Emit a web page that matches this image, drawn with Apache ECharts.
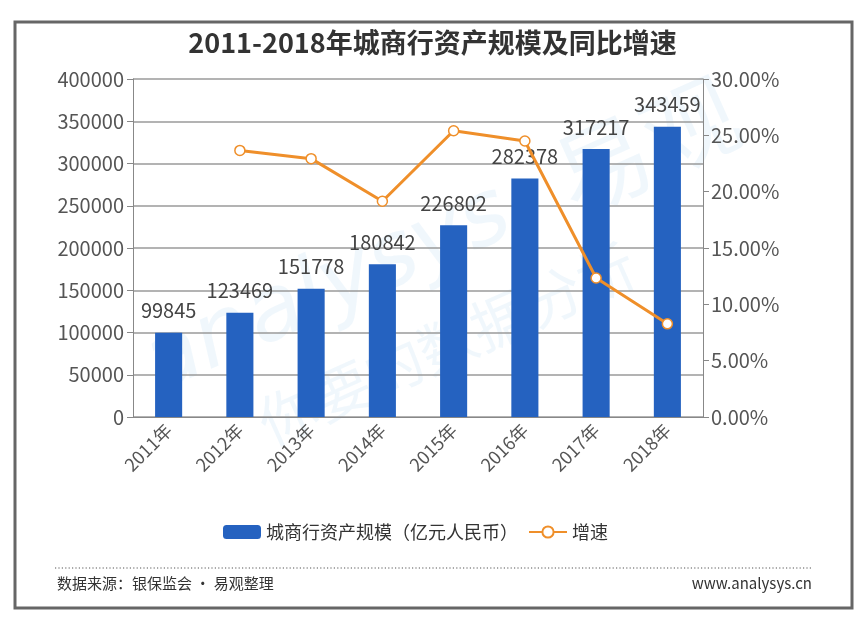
<!DOCTYPE html>
<html><head><meta charset="utf-8">
<script src="https://cdn.jsdelivr.net/npm/echarts@6/dist/echarts.min.js"></script>
<style>html,body{margin:0;padding:0;background:#fff}#c{width:865px;height:623px}</style>
</head><body><div id="c"></div>
<script>
const categories = ['2011年','2012年','2013年','2014年','2015年','2016年','2017年','2018年'];
const assetValues = [99845,123469,151778,180842,226802,282378,317217,343459];
const growthValues = [null,23.66,22.93,19.15,25.41,24.50,12.34,8.27];
const leftTicks = [0,50000,100000,150000,200000,250000,300000,350000,400000];
const rightTicks = [0,5,10,15,20,25,30];

const FF = '"Noto Sans CJK SC","Noto Sans",sans-serif';
const WM = 'rgba(200,225,245,0.28)';
const chart = echarts.init(document.getElementById('c'));
chart.setOption({
  backgroundColor:'#fff',
  animation:false,
  textStyle:{fontFamily:FF},
  title:{text:'2011-2018年城商行资产规模及同比增速',left:'center',top:24,
    textStyle:{fontSize:27,fontWeight:'bold',color:'#333',fontFamily:FF}},
  grid:{left:133,right:162,top:79,bottom:206},
  legend:{top:518,left:218,itemWidth:38,itemHeight:14,itemGap:10,
    textStyle:{fontSize:18,color:'#333',fontFamily:FF},
    data:['城商行资产规模（亿元人民币）','增速']},
  xAxis:{type:'category',data:categories,
    axisLine:{lineStyle:{color:'#888',width:1}},
    axisTick:{length:6,lineStyle:{color:'#888'}},
    axisLabel:{rotate:45,fontSize:18,color:'#555',margin:10,fontFamily:FF}},
  yAxis:[{type:'value',min:leftTicks[0],max:leftTicks[leftTicks.length-1],interval:50000,
      axisLine:{show:true,lineStyle:{color:'#888'}},
      axisTick:{show:true,length:6,lineStyle:{color:'#888'}},
      splitLine:{lineStyle:{color:'#9a9a9a',width:1.5}},
      axisLabel:{fontSize:20,color:'#555',margin:9,fontFamily:FF,formatter:v=>String(v)}},
    {type:'value',min:rightTicks[0],max:rightTicks[rightTicks.length-1],interval:5,
      axisLine:{show:true,lineStyle:{color:'#888'}},
      axisTick:{show:true,length:6,lineStyle:{color:'#888'}},
      splitLine:{show:false},
      axisLabel:{fontSize:20,color:'#555',margin:8,fontFamily:FF,formatter:v=>v.toFixed(2)+'%'}}],
  graphic:[
    {type:'text',z:0,silent:true,rotation:0.42,x:130,y:330,
      style:{text:'analysys',fontSize:90,fontStyle:'italic',fill:WM,fontFamily:'DejaVu Sans'}},
    {type:'text',z:0,silent:true,rotation:0.42,x:250,y:400,
      style:{text:'你要的数据分析',fontSize:58,fill:WM,fontFamily:FF}},
    {type:'text',z:0,silent:true,rotation:0.42,x:540,y:140,
      style:{text:'易观',fontSize:95,fill:WM,fontFamily:FF}},
    {type:'rect',silent:true,shape:{x:15,y:22,width:837,height:586},
      style:{fill:'none',stroke:'#666',lineWidth:3}},
    {type:'line',silent:true,shape:{x1:55,y1:568,x2:812,y2:568},
      style:{stroke:'#555',lineWidth:1.2,lineDash:[1.2,2.2]}},
    {type:'text',left:57,top:576,style:{text:'数据来源：银保监会 · 易观整理',fontSize:15,fill:'#333',fontFamily:FF}},
    {type:'text',right:53,top:576,style:{text:'www.analysys.cn',fontSize:15,fill:'#333',fontFamily:FF}}
  ],
  series:[
    {name:'城商行资产规模（亿元人民币）',type:'bar',data:assetValues,barWidth:'38%',
      itemStyle:{color:'#2562c0'},
      label:{show:true,position:'top',distance:12,fontSize:20,color:'#444',fontFamily:FF}},
    {name:'增速',type:'line',yAxisIndex:1,data:growthValues,
      symbol:'circle',symbolSize:10,
      lineStyle:{color:'#ef8f2a',width:3},
      itemStyle:{color:'#fff',borderColor:'#ef8f2a',borderWidth:1.5},
      z:3}
  ]
});
</script></body></html>
